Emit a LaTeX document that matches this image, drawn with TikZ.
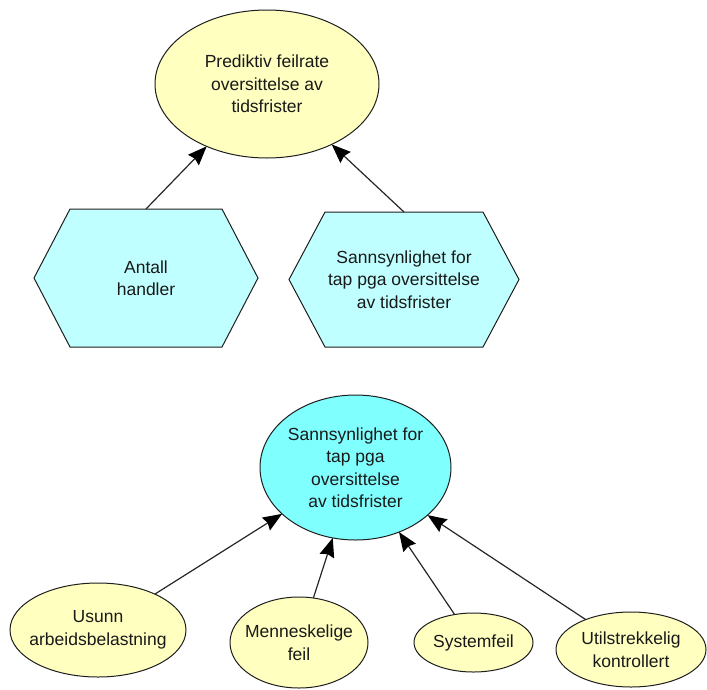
\documentclass[tikz,border=0pt]{standalone}
\usepackage{fontspec}
\setmainfont{Liberation Sans}
\usetikzlibrary{shapes.geometric,arrows.meta,backgrounds}

\definecolor{paleyellow}{RGB}{255,255,192}
\definecolor{palecyan}{RGB}{192,255,255}
\definecolor{brightcyan}{RGB}{128,255,255}
\definecolor{edgegray}{RGB}{30,30,30}

\tikzset{
  every node/.style={font=\fontsize{17.5}{22.5}\selectfont, align=center, text=black!90},
  oval/.style={ellipse, draw=edgegray, line width=1pt, inner sep=-40pt, outer sep=0pt},
  chance/.style={oval, fill=paleyellow},
  target/.style={oval, fill=brightcyan},
  hexbody/.style={rectangle, inner sep=0pt, outer sep=0pt},
  hexline/.style={draw=edgegray, line width=1pt, fill=palecyan, line join=miter},
  link/.style={draw=black!85, line width=1.2pt,
    -{Stealth[length=19pt, width=15pt, inset=2pt, color=black, fill=black]}}
}

\begin{document}
\begin{tikzpicture}[x=1pt, y=-1pt]
  \useasboundingbox (0,0) rectangle (707,689);

  % upper diagram
  \node[chance, minimum width=224pt, minimum height=148pt] (pred) at (267,84)
    {Prediktiv feilrate\\oversittelse av\\tidsfrister};
  \node[hexbody, minimum width=152pt, minimum height=138pt] (antall) at (146,278)
    {Antall\\handler};
  \node[hexbody, minimum width=158pt, minimum height=135pt] (sanns) at (404,279.5)
    {Sannsynlighet for\\tap pga oversittelse\\av tidsfrister};

  \begin{scope}[on background layer]
    \foreach \h in {antall,sanns}
      \draw[hexline] (\h.north west) -- (\h.north east) -- ([xshift=36pt]\h.east)
        -- (\h.south east) -- (\h.south west) -- ([xshift=-36pt]\h.west) -- cycle;
  \end{scope}

  \draw[link] (antall.north) -- (pred);
  \draw[link] (sanns.north) -- (pred);

  % lower diagram
  \node[target, minimum width=191pt, minimum height=145pt] (tap) at (355.5,467.5)
    {Sannsynlighet for\\tap pga\\oversittelse\\av tidsfrister};
  \node[chance, minimum width=176pt, minimum height=94pt] (usunn) at (98,630)
    {Usunn\\arbeidsbelastning};
  \node[chance, minimum width=138pt, minimum height=91pt] (menn) at (299,642.5)
    {Menneskelige\\feil};
  \node[chance, minimum width=119pt, minimum height=59pt] (sys) at (473.5,642.5)
    {Systemfeil};
  \node[chance, minimum width=150pt, minimum height=75pt] (util) at (631,649.5)
    {Utilstrekkelig\\kontrollert};

  \foreach \c in {usunn,menn,sys,util}
    \draw[link] (\c) -- (tap);
\end{tikzpicture}
\end{document}
